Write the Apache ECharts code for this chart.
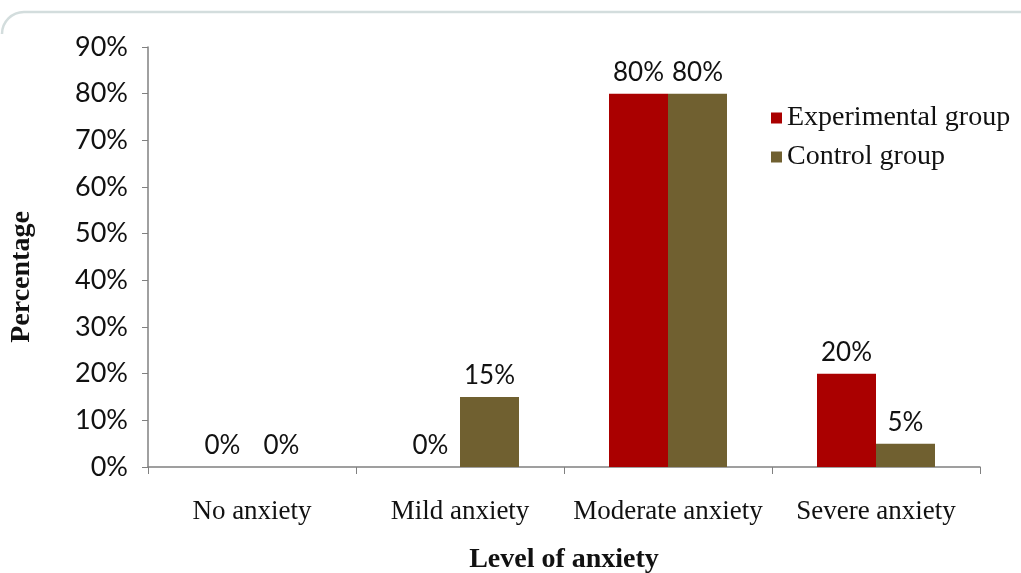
<!DOCTYPE html>
<html>
<head>
<meta charset="utf-8">
<script src="https://cdn.jsdelivr.net/npm/echarts@6/dist/echarts.min.js"></script>
<style>html,body{margin:0;padding:0;background:#fff}#c{width:1021px;height:573px}</style>
</head>
<body>
<div id="c"></div>
<script>
var categories = ['No anxiety', 'Mild anxiety', 'Moderate anxiety', 'Severe anxiety'];
var experimental = [0, 0, 80, 20];
var control = [0, 15, 80, 5];
var seriesNames = ['Experimental group', 'Control group'];

var chart = echarts.init(document.getElementById('c'));
var labelStyle = {
  show: true, position: 'top', distance: 8,
  formatter: function (p) { return p.value + '%'; },
  fontFamily: 'Lato', fontSize: 26, color: '#111'
};
chart.setOption({
  animation: false,
  backgroundColor: '#fff',
  graphic: [
    { type: 'polyline', shape: { points: [[24, 12], [1021, 12]] },
      style: { fill: null, stroke: '#d3dddd', lineWidth: 2.5 } },
    { type: 'arc', shape: { cx: 24, cy: 34, r: 22, startAngle: Math.PI, endAngle: Math.PI * 1.5 },
      style: { fill: null, stroke: '#d3dddd', lineWidth: 2.5 } }
  ],
  grid: { left: 148, right: 41, top: 47, bottom: 106, outerBoundsMode: 'none', containLabel: false },
  legend: {
    orient: 'vertical', left: 766, top: 99, itemGap: 11,
    itemWidth: 11, itemHeight: 11, icon: 'rect',
    textStyle: { fontFamily: 'Liberation Serif', fontSize: 28, color: '#111' },
    data: seriesNames
  },
  xAxis: {
    type: 'category', data: categories,
    name: 'Level of anxiety', nameLocation: 'middle', nameGap: 79,
    nameTextStyle: { fontFamily: 'Liberation Serif', fontSize: 28, fontWeight: 'bold', color: '#111' },
    axisLine: { lineStyle: { color: '#808080', width: 1.5 } },
    axisTick: { show: true, length: 7, lineStyle: { color: '#808080' } },
    axisLabel: { interval: 0, margin: 31, fontFamily: 'Liberation Serif', fontSize: 27, color: '#111' }
  },
  yAxis: {
    type: 'value', min: 0, max: 90, interval: 10,
    name: 'Percentage', nameLocation: 'middle', nameGap: 112, nameRotate: 90,
    nameTextStyle: { fontFamily: 'Liberation Serif', fontSize: 28, fontWeight: 'bold', color: '#111', padding: [0, 40, 0, 0] },
    axisLine: { show: true, lineStyle: { color: '#808080', width: 1.5 } },
    axisTick: { show: true, length: 6, lineStyle: { color: '#808080' } },
    splitLine: { show: false },
    axisLabel: { margin: 20, fontFamily: 'Lato', fontSize: 27, color: '#111', formatter: '{value}%' }
  },
  series: [
    { name: seriesNames[0], type: 'bar', data: experimental, barWidth: 59, barGap: '0%',
      itemStyle: { color: '#AA0000' }, label: labelStyle },
    { name: seriesNames[1], type: 'bar', data: control, barWidth: 59, barGap: '0%',
      itemStyle: { color: '#706030' }, label: labelStyle }
  ]
});
</script>
</body>
</html>
